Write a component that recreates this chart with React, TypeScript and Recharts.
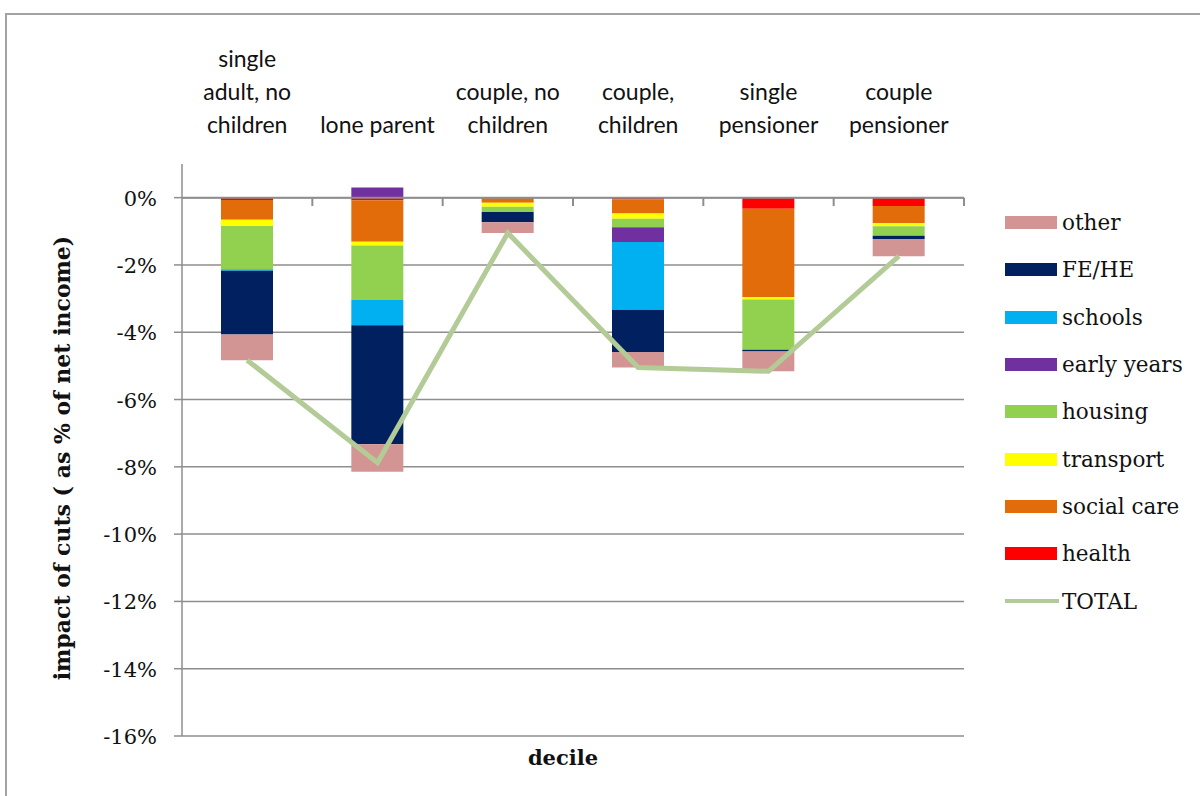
import React from "react";
import {
  ComposedChart,
  Bar,
  Line,
  XAxis,
  YAxis,
  CartesianGrid,
  ReferenceLine,
} from "recharts";

// household types along the top axis
const categories = [
  "single adult, no children",
  "lone parent",
  "couple, no children",
  "couple, children",
  "single pensioner",
  "couple pensioner",
];
const categoryLines = [
  ["single", "adult, no", "children"],
  ["lone parent"],
  ["couple, no", "children"],
  ["couple,", "children"],
  ["single", "pensioner"],
  ["couple", "pensioner"],
];

// impact of cuts, % of net income
const health = [-0.07, -0.08, 0, -0.05, -0.33, -0.25];
const socialCare = [-0.59, -1.23, -0.15, -0.42, -2.62, -0.5];
const transport = [-0.18, -0.11, -0.12, -0.16, -0.08, -0.1];
const housing = [-1.29, -1.62, -0.16, -0.25, -1.49, -0.28];
const earlyYears = [0, 0.3, 0, -0.44, 0, 0];
const schools = [-0.04, -0.75, 0, -2.01, 0, 0];
const feHe = [-1.9, -3.54, -0.3, -1.26, -0.05, -0.1];
const other = [-0.76, -0.82, -0.32, -0.46, -0.59, -0.51];
const total = [-4.83, -7.88, -1.05, -5.05, -5.16, -1.74];

const yTicks = [-16, -14, -12, -10, -8, -6, -4, -2, 0];
const categoryBoundaries = [1, 2, 3, 4, 5, 6];

// stack order: first entry sits next to the zero line
const series = [
  { key: "health", name: "health", color: "#FF0000", values: health },
  { key: "socialCare", name: "social care", color: "#E36C0A", values: socialCare },
  { key: "transport", name: "transport", color: "#FFFF00", values: transport },
  { key: "housing", name: "housing", color: "#92D050", values: housing },
  { key: "earlyYears", name: "early years", color: "#7030A0", values: earlyYears },
  { key: "schools", name: "schools", color: "#00B0F0", values: schools },
  { key: "feHe", name: "FE/HE", color: "#002060", values: feHe },
  { key: "other", name: "other", color: "#D39593", values: other },
];
const TOTAL_COLOR = "#B3CB96";
const GRID = "#8E8E8E";

const SERIF = "'DejaVu Serif', serif";
const SANS = "Lato, sans-serif";

const data = categories.map((c, i) => {
  const row: Record<string, number | string> = { category: c, slot: i + 0.5, total: total[i] };
  series.forEach((s) => (row[s.key] = s.values[i]));
  return row;
});

function CategoryTick(props: any) {
  const { x, y, index } = props;
  const lines = categoryLines[index] || [];
  const last = y - 29;
  return (
    <g>
      {lines.map((t, k) => (
        <text
          key={k}
          x={x}
          y={last - (lines.length - 1 - k) * 33}
          textAnchor="middle"
          fontFamily={SANS}
          fontSize={23}
          fill="#111"
        >
          {t}
        </text>
      ))}
    </g>
  );
}

function PercentTick(props: any) {
  const { x, y, payload } = props;
  return (
    <text
      x={x}
      y={y}
      dy={8}
      textAnchor="end"
      style={{ fontFamily: SERIF, fontSize: 21 }}
      fill="#111"
    >
      {`${payload.value}%`}
    </text>
  );
}

function Legendbox() {
  const items = [...series].reverse();
  return (
    <div style={{ position: "absolute", left: 1005, top: 199 }}>
      {items.map((s) => (
        <div key={s.key} style={{ display: "flex", alignItems: "center", height: 47.3 }}>
          <div style={{ width: 52, height: 13, background: s.color }} />
          <span style={{ marginLeft: 5, fontFamily: SERIF, fontSize: 21.5, color: "#111" }}>{s.name}</span>
        </div>
      ))}
      <div style={{ display: "flex", alignItems: "center", height: 47.3 }}>
        <div style={{ width: 54, height: 4, background: TOTAL_COLOR }} />
        <span style={{ marginLeft: 3, fontFamily: SERIF, fontSize: 21.5, color: "#111" }}>TOTAL</span>
      </div>
    </div>
  );
}

export default function App() {
  return (
    <div style={{ position: "fixed", left: 0, top: 0, width: 1200, height: 796, overflow: "hidden", background: "#fff" }}>
      <div
        style={{
          position: "absolute",
          left: 5,
          top: 13,
          width: 1300,
          height: 900,
          borderTop: "2px solid #A3A3A3",
          borderLeft: "2px solid #A3A3A3",
        }}
      />
      <div style={{ position: "absolute", left: 0, top: 0 }}>
        <ComposedChart
          width={1200}
          height={796}
          data={data}
          stackOffset="sign"
          margin={{ top: 0, right: 236, bottom: 0, left: 0 }}
        >
          <CartesianGrid
            horizontal
            vertical={false}
            horizontalValues={yTicks}
            stroke={GRID}
            strokeWidth={1.5}
          />
          <XAxis
            dataKey="category"
            orientation="top"
            height={164}
            axisLine={false}
            tickLine={false}
            tickSize={0}
            tick={(p: any) => <CategoryTick {...p} />}
            interval={0}
          />
          <XAxis
            xAxisId="num"
            dataKey="slot"
            type="number"
            orientation="bottom"
            domain={[0, 6]}
            allowDataOverflow
            ticks={[0, 6]}
            height={60}
            axisLine={false}
            tickLine={false}
            tick={false}
            label={{
              content: (p: any) => (
                <text
                  x={563}
                  y={p.viewBox.y + 29}
                  textAnchor="middle"
                  fontFamily={SERIF}
                  fontWeight="bold"
                  fontSize={21}
                  fill="#111"
                >
                  decile
                </text>
              ),
            }}
          />
          <YAxis
            width={182}
            domain={[-16, 1]}
            ticks={yTicks}
            allowDataOverflow
            axisLine={{ stroke: GRID, strokeWidth: 1.5 }}
            tickLine={{ stroke: GRID, strokeWidth: 1.5 }}
            tickSize={8}
            tickMargin={17}
            tick={(p: any) => <PercentTick {...p} />}
            label={{
              content: (p: any) => {
                const cx = 62;
                const cy = p.viewBox.y + p.viewBox.height / 2 + 8;
                return (
                  <text
                    x={cx}
                    y={cy}
                    transform={`rotate(-90 ${cx} ${cy})`}
                    textAnchor="middle"
                    dominantBaseline="central"
                    fontFamily={SERIF}
                    fontWeight="bold"
                    fontSize={22}
                    fill="#111"
                  >
                    impact of cuts ( as % of net income)
                  </text>
                );
              },
            }}
          />
          <ReferenceLine y={0} stroke={GRID} strokeWidth={2} />
          {categoryBoundaries.map((b) => (
            <ReferenceLine
              key={b}
              xAxisId="num"
              segment={[
                { x: b, y: 0 },
                { x: b, y: -0.25 },
              ]}
              stroke={GRID}
              strokeWidth={2}
              ifOverflow="visible"
            />
          ))}
          {series.map((s) => (
            <Bar
              key={s.key}
              dataKey={s.key}
              name={s.name}
              stackId="a"
              fill={s.color}
              barSize={52}
              isAnimationActive={false}
            />
          ))}
          <Line
            type="linear"
            dataKey="total"
            name="TOTAL"
            stroke={TOTAL_COLOR}
            strokeWidth={5}
            dot={false}
            isAnimationActive={false}
          />
        </ComposedChart>
      </div>
      <Legendbox />
    </div>
  );
}
